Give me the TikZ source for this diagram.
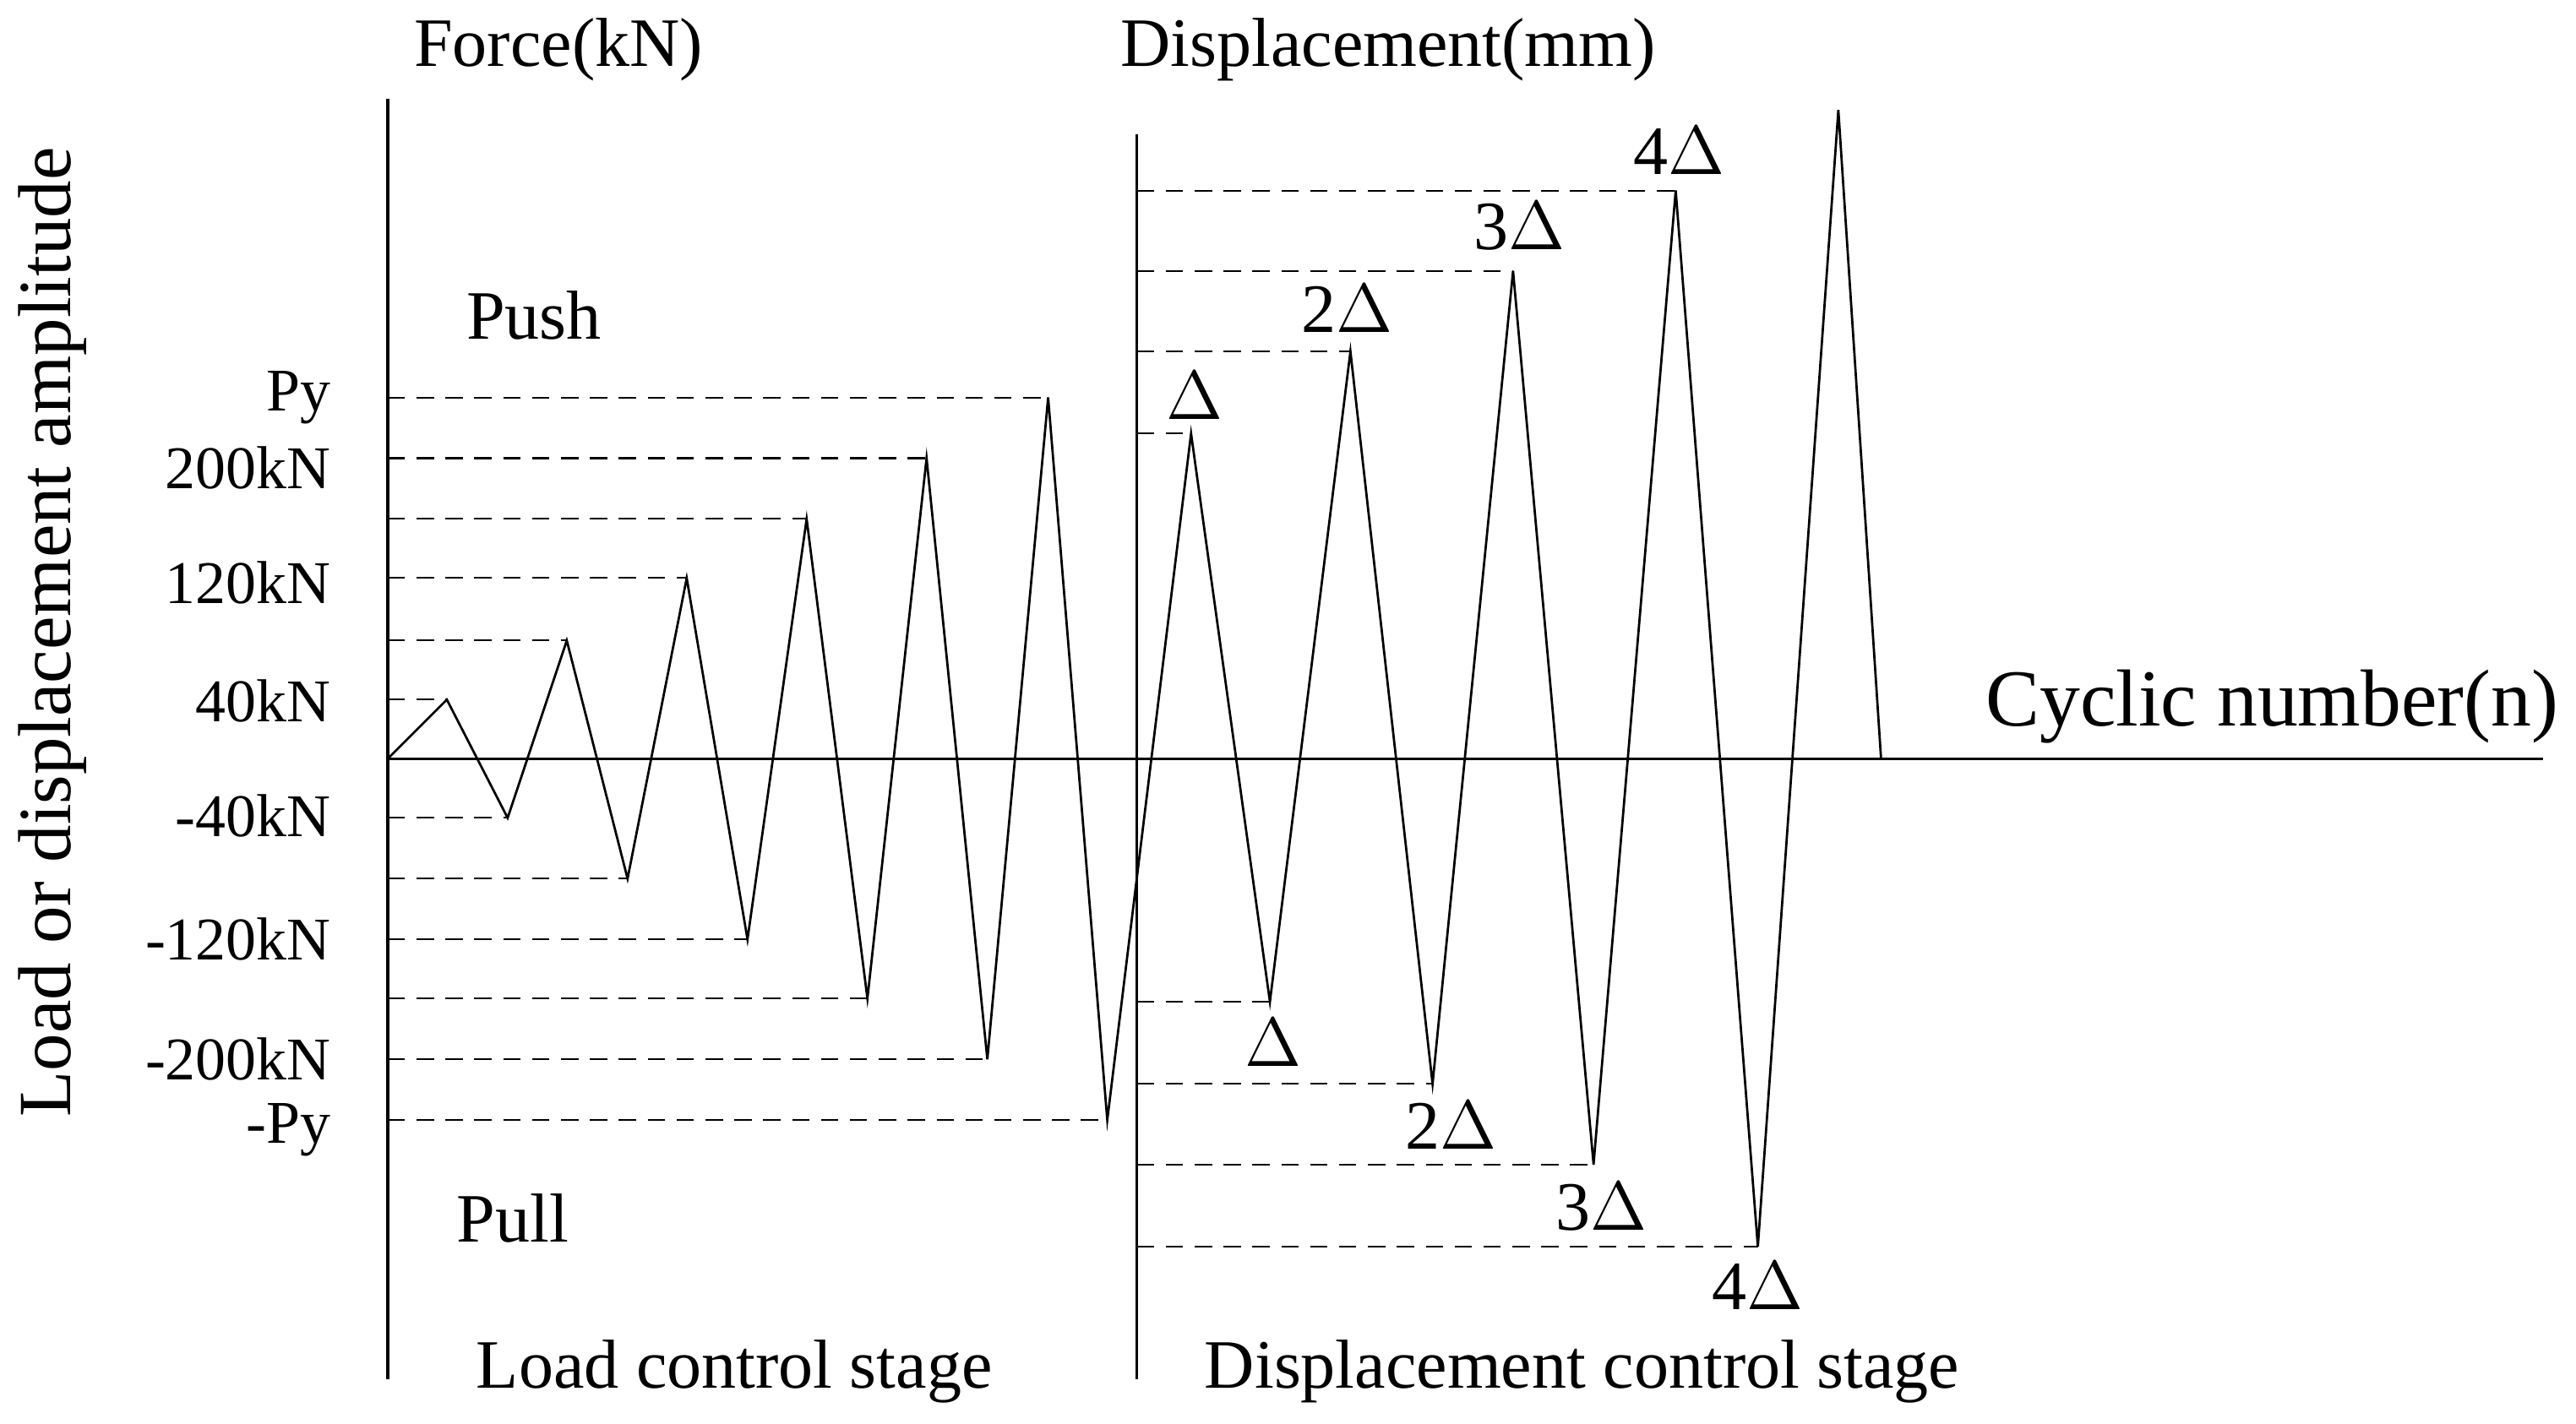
\documentclass[tikz,border=0pt]{standalone}
\usepackage{fontspec}
\setmainfont{Liberation Serif}
\begin{document}
\begin{tikzpicture}[x=0.01cm,y=-0.01cm,
  lbl/.style={font=\fontsize{10.5pt}{12pt}\selectfont,inner sep=0pt},
  ax/.style={line width=0.5pt},
  wave/.style={line width=0.4pt},
  guide/.style={dashed,line width=0.3pt,dash pattern=on 3pt off 2pt}]
\useasboundingbox (0,0) rectangle (1568,867);
% axes
\coordinate (a1t) at (236,60); \coordinate (a1b) at (236,840);
\coordinate (a2t) at (692,82); \coordinate (a2b) at (692,840);
\coordinate (o) at (236,462); \coordinate (xe) at (1548,462);
\draw[ax] (a1t)--(a1b); \draw[ax] (a2t)--(a2b); \draw[ax] (o)--(xe);
% load peaks
\foreach \n/\x/\y in {1/272/426,2/309/498,3/345/390,4/382/535,5/418/352,6/455/572,7/491/316,8/528/608,9/564/279,10/601/645,11/638/242,12/674/682}{
  \coordinate (p\n) at (\x,\y);
  \coordinate (q\n) at (236,\y);
  \draw[guide] (q\n)--(p\n);}
\foreach \n/\x/\y in {1/725/264,2/773/610,3/822/214,4/872/660,5/921/165,6/970/709,7/1020/116,8/1070/759}{
  \coordinate (d\n) at (\x,\y);
  \coordinate (e\n) at (692,\y);
  \draw[guide] (e\n)--(d\n);}
\coordinate (d9) at (1119,67); \coordinate (end) at (1145,462);
\draw[wave] (o)--(p1)--(p2)--(p3)--(p4)--(p5)--(p6)--(p7)--(p8)--(p9)--(p10)--(p11)--(p12)
  --(d1)--(d2)--(d3)--(d4)--(d5)--(d6)--(d7)--(d8)--(d9)--(end);
% y labels
\foreach \t/\y in {Py/242,200kN/285,120kN/355,40kN/427,-40kN/497,-120kN/572,-200kN/645,-Py/688}
  \node[lbl,anchor=east] (l\y) at (202,\y) {\t};
\node[lbl,font=\fontsize{12pt}{14pt}\selectfont] (push) at (325,192) {Push};
\node[lbl,font=\fontsize{12pt}{14pt}\selectfont] (pull) at (312,742) {Pull};
\node[lbl,font=\fontsize{12pt}{14pt}\selectfont] (fk) at (340,30) {Force(kN)};
\node[lbl,font=\fontsize{12pt}{14pt}\selectfont] (dm) at (845,30) {Displacement(mm)};
\node[lbl,font=\fontsize{12pt}{14pt}\selectfont] (ls) at (447,835) {Load control stage};
\node[lbl,font=\fontsize{12pt}{14pt}\selectfont] (ds) at (963,835) {Displacement control stage};
\node[lbl,font=\fontsize{14pt}{16pt}\selectfont] (cn) at (1383,430) {Cyclic number(n)};
\node[lbl,font=\fontsize{13pt}{15pt}\selectfont,rotate=90] (vl) at (32,385) {Load or displacement amplitude};
% delta labels
\foreach \t/\x/\y in {$\Delta$/727/241,2$\Delta$/820/188,3$\Delta$/925/138,4$\Delta$/1022/92,$\Delta$/775/635,2$\Delta$/883/685,3$\Delta$/975/735,4$\Delta$/1070/783}
  \node[lbl,font=\fontsize{12pt}{14pt}\selectfont] (t\x) at (\x,\y) {\t};
\end{tikzpicture}
\end{document}
